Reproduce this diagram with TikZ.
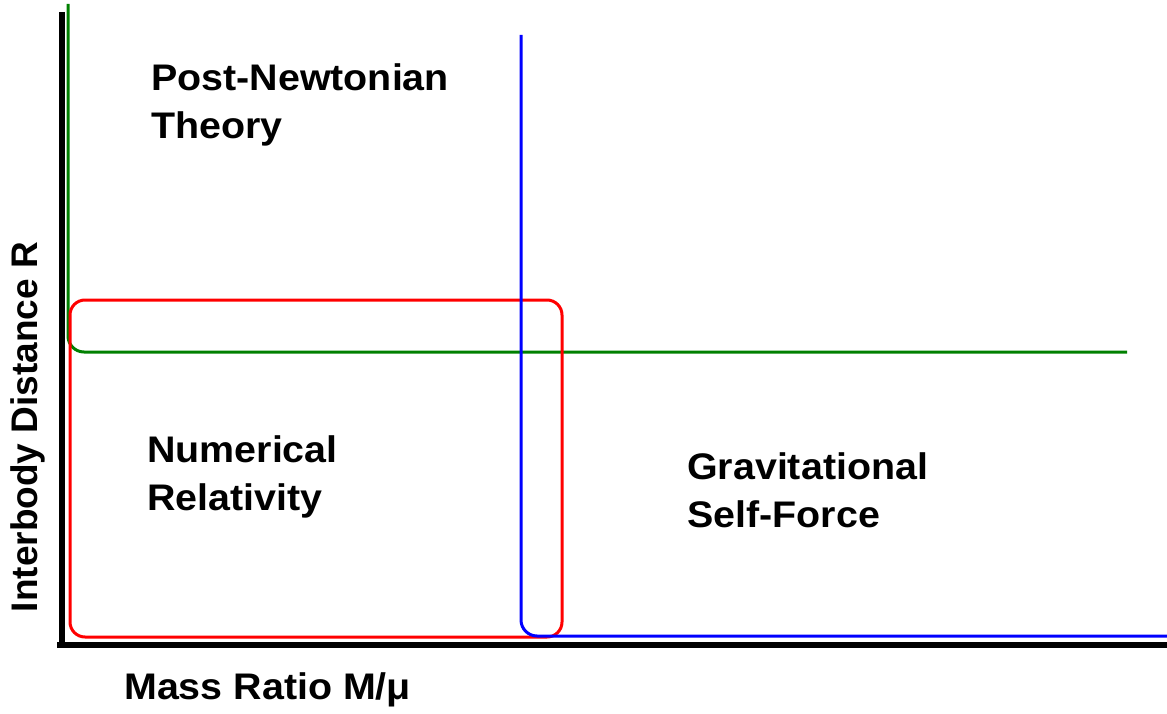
\documentclass[tikz,border=0pt]{standalone}
\usepackage{fontspec}
\setmainfont{Liberation Sans}
\usetikzlibrary{positioning}

\tikzset{
  region/.style={font=\fontsize{37}{48}\selectfont\bfseries, align=left, inner sep=0pt, xscale=1.065},
  axislabel/.style={font=\fontsize{37}{40}\selectfont\bfseries, inner sep=0pt},
  axisline/.style={line width=6pt, black},
  bound/.style={line width=3pt, rounded corners=16pt}
}

\begin{document}
\begin{tikzpicture}[x=1pt, y=-1pt]
\useasboundingbox (0,0) rectangle (1167,714);

% axes
\coordinate (top) at (62,12);
\coordinate (origin) at (62,648);
\coordinate (xend) at (1167,645);
\draw[axisline] (top) -- (origin);
\draw[axisline] (57,645) -- (xend);

% Post-Newtonian boundary
\draw[bound, green!50!black] (68,4) -- (68,352) -- (1127,352);

% Numerical Relativity boundary
\draw[line width=3pt, red, rounded corners=15pt] (70,300) rectangle (562,637);

% Self-force boundary
\draw[bound, blue] (521,35) -- (521,636) -- (1167,636);

% region labels
\node[region, anchor=west] (pn) at (151,105) {Post-Newtonian\\Theory};
\node[region, anchor=west] (nr) at (147,477) {Numerical\\Relativity};
\node[region, anchor=west] (gsf) at (687,490) {Gravitational\\Self-Force};

% axis labels
\node[axislabel, anchor=west, xscale=1.065] (xlab) at (124,690) {Mass Ratio M/μ};
\node[axislabel, rotate=90] (ylab) at (28,427) {Interbody Distance R};
\end{tikzpicture}
\end{document}
